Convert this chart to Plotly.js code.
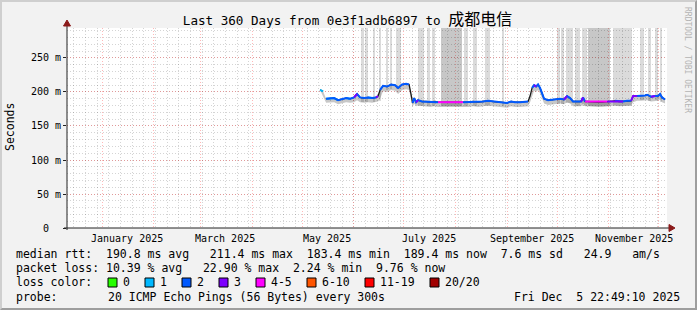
<!DOCTYPE html>
<html><head><meta charset="utf-8">
<script src="https://cdn.plot.ly/plotly-3.0.1.min.js"></script>
<style>
html,body{margin:0;padding:0;background:#f2f2f2;}
#wrap{position:relative;width:697px;height:310px;overflow:hidden;}
#chart{width:697px;height:310px;}
#frame{position:absolute;left:0;top:0;width:697px;height:310px;box-sizing:border-box;border-top:2px solid #cfcfcf;border-left:2px solid #cfcfcf;border-right:2px solid #9e9e9e;border-bottom:2px solid #9e9e9e;pointer-events:none;}
</style></head>
<body>
<div id="wrap"><div id="chart"></div><div id="frame"></div></div>
<script>
// ---------------- data ----------------
const startTime = '2024-12-10 22:49:10';
const endTime   = '2025-12-05 22:49:10';
const monthStarts = ['2025-01-01','2025-02-01','2025-03-01','2025-04-01','2025-05-01','2025-06-01',
                     '2025-07-01','2025-08-01','2025-09-01','2025-10-01','2025-11-01','2025-12-01'];
const weekTick0 = '2024-12-15';
const labelDates = ['2025-01-16','2025-03-16','2025-05-16','2025-07-16','2025-09-16','2025-11-16'];
const labelTexts = ['January 2025','March 2025','May 2025','July 2025','September 2025','November 2025'];
const yTicks = [0,50,100,150,200,250];
const yTickText = ['0  ','50 m','100 m','150 m','200 m','250 m'];

const times = ['2025-05-11 19:00','2025-05-13 14:00','2025-05-14 12:00','2025-05-15 10:00','2025-05-17 19:00',
 '2025-05-20 05:00','2025-05-22 14:00','2025-05-25 00:00','2025-05-27 10:00','2025-05-29 19:00',
 '2025-06-01 05:00','2025-06-03 00:00','2025-06-04 19:00','2025-06-07 05:00','2025-06-09 14:00',
 '2025-06-12 00:00','2025-06-14 10:00','2025-06-15 14:00','2025-06-16 19:00','2025-06-18 14:00',
 '2025-06-21 00:00','2025-06-23 10:00','2025-06-25 19:00','2025-06-27 14:00','2025-06-30 00:00',
 '2025-07-02 10:00','2025-07-04 05:00','2025-07-05 10:00','2025-07-06 07:00','2025-07-07 05:00',
 '2025-07-08 10:00','2025-07-09 14:00','2025-07-12 00:00','2025-07-14 10:00','2025-07-16 19:00',
 '2025-07-19 05:00','2025-07-21 14:00','2025-07-24 14:00','2025-07-27 14:00','2025-07-30 14:00',
 '2025-08-02 14:00','2025-08-05 14:00','2025-08-08 14:00','2025-08-11 14:00','2025-08-14 14:00',
 '2025-08-17 14:00','2025-08-20 14:00','2025-08-23 14:00','2025-08-26 14:00','2025-08-29 14:00',
 '2025-09-01 00:00','2025-09-03 10:00','2025-09-05 19:00','2025-09-08 19:00','2025-09-11 19:00',
 '2025-09-13 14:00','2025-09-14 19:00','2025-09-16 00:00','2025-09-17 05:00','2025-09-18 10:00',
 '2025-09-19 14:00','2025-09-20 19:00','2025-09-22 00:00','2025-09-23 05:00','2025-09-25 14:00',
 '2025-09-28 00:00','2025-09-30 10:00','2025-10-02 19:00','2025-10-05 05:00','2025-10-07 00:00',
 '2025-10-08 19:00','2025-10-10 14:00','2025-10-13 00:00','2025-10-15 10:00','2025-10-16 14:00',
 '2025-10-17 19:00','2025-10-19 00:00','2025-10-22 00:00','2025-10-25 00:00','2025-10-28 00:00',
 '2025-10-31 00:00','2025-11-02 10:00','2025-11-04 19:00','2025-11-07 05:00','2025-11-09 14:00',
 '2025-11-12 00:00','2025-11-14 10:00','2025-11-15 14:00','2025-11-18 00:00','2025-11-20 10:00',
 '2025-11-22 19:00','2025-11-24 00:00','2025-11-26 10:00','2025-11-28 19:00','2025-11-30 14:00',
 '2025-12-01 19:00','2025-12-03 00:00','2025-12-04 19:00'];
const medianRtt = [203,201,null,190,190,191,188,190,191,190,
 192,197,192,191,192,191,192,194,203,209,
 208,211,210,206,211,212,211,196,184,191,
 185,188,186,186,185,186,185,185,185,184,
 185,185,185,186,185,186,187,186,185,185,
 184,186,185,185,186,186,194,206,210,208,
 211,206,198,190,188,189,189,190,189,194,
 191,186,186,186,192,186,186,185,185,185,
 186,186,187,186,186,187,187,194,194,194,
 195,196,193,194,194,197,192,189];
// loss class per interval: 1 = "1", 2 = "2", 3 = "3", 4 = "4-5"; null = transition
const lossClass = [1,1,null,2,1,2,1,2,2,1,
 2,3,2,2,2,1,2,3,null,2,
 2,2,2,2,2,2,2,null,null,2,
 2,3,2,2,2,2,2,4,4,4,
 4,4,2,2,2,2,2,2,2,2,
 2,2,2,2,2,2,null,null,2,3,
 2,2,null,2,2,2,2,2,2,3,
 2,2,2,2,3,2,4,4,4,4,
 4,3,3,2,3,2,2,3,3,2,
 2,2,2,3,2,2,2,2];
const smokeLow = [198,197,null,184,184,185,182,184,185,184,
 185,188,185,184,185,184,185,186,190,201,
 200,203,202,197,203,204,203,189,178,183,
 179,180,179,179,178,179,178,178,178,177,
 178,178,178,179,178,179,180,179,178,178,
 177,179,178,178,179,179,185,195,202,200,
 203,198,189,183,181,182,182,183,182,185,
 183,179,179,179,183,179,179,178,178,178,
 179,179,180,179,179,180,180,185,187,187,
 188,188,186,187,187,189,185,183];

// smoke columns whose maximum ping exceeds the graph range
const spikeStart = ['2025-06-05 10:00','2025-06-07 19:00','2025-06-12 14:00','2025-06-16 05:00','2025-06-20 10:00',
 '2025-06-22 19:00','2025-06-26 10:00','2025-07-09 14:00','2025-07-15 00:00','2025-07-18 00:00',
 '2025-07-23 10:00','2025-07-28 05:00','2025-08-06 05:00','2025-08-11 14:00','2025-08-18 19:00',
 '2025-08-29 00:00','2025-10-01 00:00','2025-10-03 10:00','2025-10-06 10:00','2025-10-11 19:00',
 '2025-10-16 00:00','2025-10-19 14:00','2025-11-03 14:00','2025-11-09 14:00','2025-11-19 19:00',
 '2025-11-24 14:00','2025-11-28 19:00','2025-12-01 19:00'];
const spikeEnd = ['2025-06-07 05:00','2025-06-09 14:00','2025-06-13 19:00','2025-06-17 10:00','2025-06-21 14:00',
 '2025-06-24 00:00','2025-06-29 10:00','2025-07-13 05:00','2025-07-16 19:00','2025-07-19 19:00',
 '2025-07-28 05:00','2025-08-05 00:00','2025-08-08 14:00','2025-08-14 00:00','2025-08-21 19:00',
 '2025-08-30 05:00','2025-10-02 19:00','2025-10-05 05:00','2025-10-10 14:00','2025-10-14 19:00',
 '2025-10-19 00:00','2025-11-01 19:00','2025-11-09 14:00','2025-11-15 00:00','2025-11-22 05:00',
 '2025-11-26 10:00','2025-11-30 14:00','2025-12-03 00:00'];
const spikeLow = [186,186,186,187,203,204,204,180,180,180,
 179,179,179,180,180,179,183,183,184,180,
 180,179,180,180,188,187,188,186];
const spikeHigh = [420,380,350,360,400,390,450,520,380,360,
 610,720,400,380,430,330,360,380,450,400,
 420,800,480,460,380,350,360,340];
const spikeLayers = [1,1,1,1,1,1,1,1,1,1,
 2,2,1,1,1,1,1,1,1,1,
 1,2,1,1,1,1,1,1];

const rttStats = [190.8, 211.4, 183.4, 189.4, 7.6, 24.9];
const lossStats = [10.39, 22.90, 2.24, 9.76];
const lossLabels = ['0','1','2','3','4-5','6-10','11-19','20/20'];
const lossColors = ['#26ff00','#00b8ff','#0059ff','#7e00ff','#ff00ff','#ff5500','#ff0000','#a10000'];
const probeText = '20 ICMP Echo Pings (56 Bytes) every 300s';
const stampText = 'Fri Dec  5 22:49:10 2025';
const titleMain = 'Last 360 Days from 0e3f1adb6897 to ';
const titleCJK = '成都电信';

// ---------------- drawing ----------------
const MONO = 'DejaVu Sans Mono, monospace';
const px2x = p => (p - 67) / 600;
const py2y = p => (228 - p) / 200;
const nb = s => s.replace(/ /g, '\u00a0');
const toMs = s => Date.parse(s.replace(' ', 'T') + 'Z');

const traces = [];
// spikes
traces.push({
  type: 'bar',
  x: spikeStart.map((s, i) => (toMs(s) + toMs(spikeEnd[i])) / 2),
  width: spikeStart.map((s, i) => toMs(spikeEnd[i]) - toMs(s)),
  base: spikeLow,
  y: spikeHigh.map((h, i) => h - spikeLow[i]),
  marker: { color: spikeLayers.map(l => l > 1 ? 'rgba(0,0,0,0.22)' : 'rgba(0,0,0,0.14)'), line: { width: 0 } },
  hoverinfo: 'skip'
});
// smoke band under the median
traces.push({ type: 'scatter', mode: 'lines', x: times, y: smokeLow, line: { width: 0, color: 'rgba(0,0,0,0)' }, hoverinfo: 'skip' });
traces.push({ type: 'scatter', mode: 'lines', x: times, y: medianRtt, fill: 'tonexty', fillcolor: 'rgba(0,0,0,0.22)', line: { width: 0, color: 'rgba(0,0,0,0)' }, hoverinfo: 'skip' });
// dark base line
traces.push({ type: 'scatter', mode: 'lines', x: times, y: medianRtt, line: { width: 1.3, color: '#1a1a1a' }, hoverinfo: 'skip' });
// loss-coloured median
for (let c = 0; c < lossColors.length; c++) {
  const yc = medianRtt.map((v, i) => (lossClass[i] === c || lossClass[i + 1] === c) ? v : null);
  if (yc.every(v => v === null)) continue;
  traces.push({ type: 'scatter', mode: 'lines', x: times, y: yc, connectgaps: false,
    line: { width: 2, color: lossColors[c] }, hoverinfo: 'skip' });
}

const ann = [];
// x labels
labelDates.forEach((d, i) => ann.push({ xref: 'x', yref: 'paper', x: d, y: py2y(238), text: labelTexts[i],
  showarrow: false, xanchor: 'center', yanchor: 'middle', font: { family: MONO, size: 10, color: '#000' } }));
// y title
ann.push({ xref: 'paper', yref: 'paper', x: px2x(10), y: py2y(127), text: 'Seconds', textangle: -90, showarrow: false,
  xanchor: 'center', yanchor: 'middle', font: { family: MONO, size: 11.5, color: '#000' } });
// watermark
ann.push({ xref: 'paper', yref: 'paper', x: px2x(688), y: py2y(60), text: 'RRDTOOL / TOBI OETIKER', textangle: 90, showarrow: false,
  xanchor: 'center', yanchor: 'middle', font: { family: MONO, size: 8, color: '#b4b4b4' } });
// legend lines
const f = (v, d) => v.toFixed(d);
const row1 = 'median rtt:  ' + f(rttStats[0],1) + ' ms avg   ' + f(rttStats[1],1) + ' ms max  ' + f(rttStats[2],1) + ' ms min  ' +
  f(rttStats[3],1) + ' ms now  ' + f(rttStats[4],1) + ' ms sd   ' + f(rttStats[5],1) + '   am/s';
const row2 = 'packet loss: ' + f(lossStats[0],2) + ' % avg   ' + f(lossStats[1],2) + ' % max  ' + f(lossStats[2],2) + ' % min  ' +
  f(lossStats[3],2) + ' % now';
const leg = (text, x, y, anchor) => ann.push({ xref: 'paper', yref: 'paper', x: px2x(x), y: py2y(y), text: nb(text), showarrow: false,
  xanchor: anchor || 'left', yanchor: 'middle', borderpad: 0, font: { family: MONO, size: 11.5, color: '#000' } });
leg(row1, 15, 254);
leg(row2, 15, 268);
leg('loss color:', 15, 282);
const swatchX = [108, 145, 182, 219, 256, 307, 365, 430];
lossLabels.forEach((l, i) => leg(l, swatchX[i] + 14, 282));
leg('probe:', 15, 297);
leg(probeText, 107, 297);
leg(stampText, 681, 297, 'right');

const shapes = [];
lossColors.forEach((c, i) => shapes.push({ type: 'rect', xref: 'paper', yref: 'paper',
  x0: px2x(swatchX[i]), x1: px2x(swatchX[i] + 9), y0: py2y(287), y1: py2y(278),
  fillcolor: c, line: { color: '#000', width: 1 } }));
// axis extensions and arrows
shapes.push({ type: 'line', xref: 'paper', yref: 'paper', x0: px2x(67), x1: px2x(67), y0: py2y(230), y1: py2y(23), line: { color: '#222', width: 1 } });
shapes.push({ type: 'line', xref: 'paper', yref: 'paper', x0: px2x(64), x1: px2x(670), y0: py2y(228), y1: py2y(228), line: { color: '#222', width: 1 } });
shapes.push({ type: 'path', xref: 'paper', yref: 'paper', fillcolor: '#8b1a1a', line: { color: '#8b1a1a', width: 1 },
  path: 'M' + px2x(67) + ',' + py2y(20) + ' L' + px2x(63.5) + ',' + py2y(26) + ' L' + px2x(70.5) + ',' + py2y(26) + ' Z' });
shapes.push({ type: 'path', xref: 'paper', yref: 'paper', fillcolor: '#8b1a1a', line: { color: '#8b1a1a', width: 1 },
  path: 'M' + px2x(675) + ',' + py2y(228) + ' L' + px2x(669) + ',' + py2y(224.5) + ' L' + px2x(669) + ',' + py2y(231.5) + ' Z' });

const layout = {
  width: 697, height: 310,
  margin: { l: 67, r: 30, t: 28, b: 82, pad: 0 },
  paper_bgcolor: '#f2f2f2', plot_bgcolor: '#ffffff',
  showlegend: false, barmode: 'overlay', bargap: 0,
  font: { family: MONO, size: 10, color: '#000' },
  title: { text: titleMain + '<span style="font-family:\'Noto Sans CJK SC\';font-size:16px">' + titleCJK + '</span>',
    xref: 'container', yref: 'container', x: 347.5 / 697, y: 1 - 21 / 310, xanchor: 'center', yanchor: 'middle',
    font: { family: MONO, size: 12.6, color: '#000' } },
  xaxis: {
    type: 'date', range: [startTime, endTime], tickmode: 'array', tickvals: monthStarts, showticklabels: false,
    showgrid: true, gridcolor: 'rgba(255,0,0,0.28)', griddash: '1px,2px', gridwidth: 1,
    showline: false, ticks: '', zeroline: false, fixedrange: true,
    minor: { tickmode: 'linear', tick0: weekTick0, dtick: 7 * 86400000, showgrid: true,
      gridcolor: 'rgba(0,0,0,0.17)', griddash: '1px,2px', gridwidth: 1 }
  },
  yaxis: {
    range: [0, 294.1], tickmode: 'array', tickvals: yTicks, ticktext: yTickText.map(nb),
    showgrid: true, gridcolor: 'rgba(255,0,0,0.28)', griddash: '1px,2px', gridwidth: 1,
    showline: false, ticks: 'outside', ticklen: 3, tickcolor: '#222', zeroline: false, fixedrange: true,
    tickfont: { family: MONO, size: 10, color: '#000' },
    minor: { tickmode: 'linear', tick0: 0, dtick: 10, showgrid: true,
      gridcolor: 'rgba(0,0,0,0.17)', griddash: '1px,2px', gridwidth: 1 }
  },
  annotations: ann,
  shapes: shapes
};

Plotly.newPlot('chart', traces, layout, { displayModeBar: false, staticPlot: true });
</script>
</body></html>
